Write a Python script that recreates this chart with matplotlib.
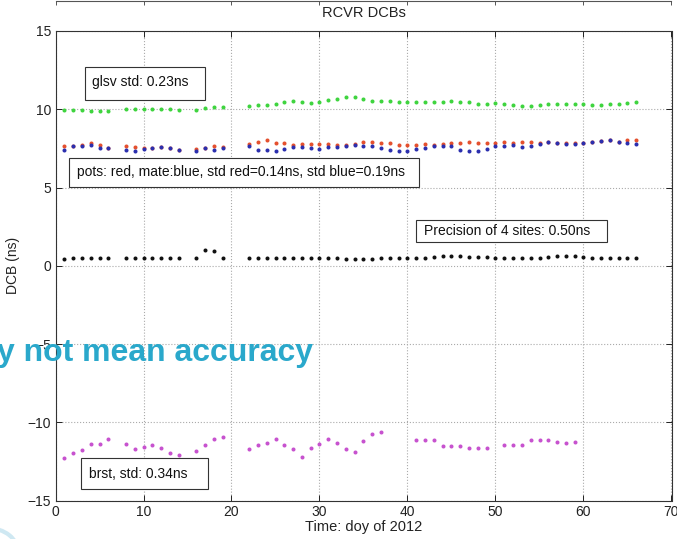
import matplotlib
matplotlib.use("Agg")
import matplotlib.pyplot as plt
from matplotlib.patches import Rectangle, Circle

plt.rcParams['font.family'] = ['Liberation Sans', 'DejaVu Sans']

# ---- data -------------------------------------------------------------
days = list(range(1, 7)) + list(range(8, 15)) + list(range(16, 20)) + list(range(22, 67))
days_brst = (list(range(1, 7)) + list(range(8, 15)) + list(range(16, 20)) +
             list(range(22, 38)) + list(range(41, 50)) + list(range(51, 60)))

glsv = [9.98, 9.98, 9.94, 9.90, 9.89, 9.88,
        10.00, 10.00, 10.03, 10.00, 10.00, 10.00, 9.98,
        9.94, 10.08, 10.17, 10.17,
        10.23, 10.25, 10.27, 10.36, 10.48, 10.53, 10.48, 10.42, 10.48, 10.57, 10.65, 10.78, 10.78,
        10.66, 10.51, 10.53, 10.53, 10.49, 10.45, 10.45, 10.45, 10.49, 10.49, 10.53, 10.49,
        10.45, 10.34, 10.34, 10.40, 10.36, 10.28, 10.21, 10.21, 10.26, 10.32, 10.32, 10.32,
        10.32, 10.34, 10.28, 10.28, 10.32, 10.32, 10.38, 10.45]

pots = [7.64, 7.66, 7.75, 7.87, 7.72, 7.55,
        7.68, 7.58, 7.50, 7.53, 7.60, 7.51, 7.43,
        7.48, 7.54, 7.63, 7.57,
        7.80, 7.94, 8.02, 7.87, 7.83, 7.75, 7.77, 7.81, 7.81, 7.79, 7.75, 7.75, 7.77,
        7.89, 7.89, 7.87, 7.85, 7.75, 7.75, 7.75, 7.77, 7.75, 7.79, 7.85, 7.85,
        7.89, 7.85, 7.83, 7.87, 7.89, 7.87, 7.89, 7.89, 7.87, 7.89, 7.87, 7.87,
        7.85, 7.87, 7.92, 7.98, 8.02, 7.94, 8.02, 8.02]

mate = [7.43, 7.64, 7.63, 7.70, 7.53, 7.55,
        7.40, 7.32, 7.45, 7.51, 7.60, 7.51, 7.43,
        7.36, 7.50, 7.39, 7.55,
        7.66, 7.43, 7.38, 7.34, 7.49, 7.58, 7.58, 7.55, 7.45, 7.57, 7.60, 7.68, 7.72,
        7.68, 7.66, 7.55, 7.38, 7.32, 7.32, 7.45, 7.51, 7.66, 7.66, 7.68, 7.38,
        7.32, 7.32, 7.47, 7.68, 7.66, 7.72, 7.60, 7.64, 7.81, 7.89, 7.87, 7.77,
        7.77, 7.83, 7.92, 7.98, 8.02, 7.94, 7.87, 7.81]

mean4 = [0.45, 0.49, 0.51, 0.51, 0.49, 0.49,
         0.49, 0.49, 0.49, 0.49, 0.49, 0.49, 0.49,
         0.51, 1.03, 0.92, 0.49,
         0.51, 0.51, 0.51, 0.51, 0.51, 0.49, 0.51, 0.53, 0.49, 0.49, 0.49, 0.45, 0.45,
         0.43, 0.45, 0.49, 0.49, 0.49, 0.49, 0.53, 0.53, 0.58, 0.60, 0.62, 0.60,
         0.58, 0.58, 0.58, 0.53, 0.53, 0.53, 0.53, 0.53, 0.53, 0.58, 0.60, 0.62,
         0.62, 0.55, 0.53, 0.51, 0.51, 0.49, 0.49, 0.49]

brst = [-12.30, -11.96, -11.75, -11.38, -11.40, -11.07,
        -11.40, -11.68, -11.60, -11.42, -11.66, -11.96, -12.10,
        -11.81, -11.45, -11.06, -10.92,
        -11.68, -11.45, -11.30, -11.06, -11.45, -11.70, -12.19, -11.64,
        -11.38, -11.06, -11.34, -11.70, -11.88, -11.19, -10.74, -10.61,
        -11.15, -11.15, -11.15, -11.49, -11.49, -11.49, -11.62, -11.62, -11.62,
        -11.46, -11.46, -11.46, -11.15, -11.10, -11.10, -11.23, -11.32, -11.27]

xticks = [0, 10, 20, 30, 40, 50, 60, 70]
yticks = [-15, -10, -5, 0, 5, 10, 15]

# ---- figure -----------------------------------------------------------
W, H = 677, 539
fig = plt.figure(figsize=(W / 100, H / 100), dpi=100)
fig.patch.set_facecolor('white')

def fx(px):
    return px / W

def fy(py):
    return 1 - py / H

ax_l, ax_r, ax_t, ax_b = 55.5, 671.5, 31.0, 500.7
ax = fig.add_axes([fx(ax_l), fy(ax_b), fx(ax_r - ax_l), (ax_b - ax_t) / H])

ax.set_xlim(0, 70)
ax.set_ylim(-15, 15)
ax.set_xticks(xticks)
ax.set_yticks(yticks)
ax.tick_params(direction='in', top=True, right=True, length=4, width=0.7,
               labelsize=10, colors='#222222', pad=3)
for s in ax.spines.values():
    s.set_color('#333333')
    s.set_linewidth(0.8)
ax.grid(True, linestyle=':', color='#aaaaaa', linewidth=0.8)

ms = 2.9
ax.plot(days, glsv, 'o', ms=ms, mew=0, color='#3fd43f', zorder=3)
ax.plot(days, pots, 'o', ms=ms, mew=0, color='#e4502e', zorder=3)
ax.plot(days, mate, 'o', ms=ms, mew=0, color='#2b2fae', zorder=4)
ax.plot(days, mean4, 'o', ms=ms, mew=0, color='#111111', zorder=3)
ax.plot(days_brst, brst, 'o', ms=ms, mew=0, color='#c752cf', zorder=3)

fig.text(fx((ax_l + ax_r) / 2), fy(13), 'RCVR DCBs', fontsize=10.5, color='#222222',
         ha='center', va='center')
ax.set_xlabel('Time: doy of 2012', fontsize=10.5, color='#222222', labelpad=1)
ax.set_ylabel('DCB (ns)', fontsize=10, color='#222222')
ax.yaxis.set_label_coords((20 - ax_l) / (ax_r - ax_l), 0.5)

# annotation boxes (pixel extents converted to data units)
def to_data(px, py):
    x = (px - ax_l) / (ax_r - ax_l) * 70
    y = 15 - (py - ax_t) / (ax_b - ax_t) * 30
    return x, y

def note(text, box, text_px):
    x0, y0 = to_data(box[0], box[3])
    x1, y1 = to_data(box[2], box[1])
    ax.add_patch(Rectangle((x0, y0), x1 - x0, y1 - y0, facecolor='white',
                           edgecolor='#333333', linewidth=0.8, zorder=5))
    tx, ty = to_data(*text_px)
    ax.text(tx, ty, text, fontsize=10, color='#111111', va='center', ha='left', zorder=6)

note('glsv std: 0.23ns', (85, 67, 205, 100), (92, 82))
note('pots: red, mate:blue, std red=0.14ns, std blue=0.19ns', (69, 158, 419, 187), (77, 172))
note('Precision of 4 sites: 0.50ns', (416, 220, 607, 242), (424, 231))
note('brst, std: 0.34ns', (81, 458, 208, 489), (89, 474))

# neighbouring slide elements
top = fig.add_axes([fx(ax_l), fy(5), fx(ax_r - ax_l), 4 / H])
top.set_xlim(0, 70)
top.set_xticks(xticks)
top.set_yticks([])
for k in ('left', 'right', 'bottom'):
    top.spines[k].set_visible(False)
top.spines['top'].set_color('#555555')
top.spines['top'].set_linewidth(0.8)
top.tick_params(axis='x', direction='in', top=True, bottom=False,
                labelbottom=False, length=3, width=0.7, colors='#555555')
top.patch.set_alpha(0)

fig.add_artist(Circle((fx(-12), fy(552)), 30 / W, transform=fig.transFigure,
                      facecolor='none', edgecolor='#cfe8f2', linewidth=3))

fig.text(fx(313), fy(361), 'y not mean accuracy', fontsize=23, fontweight='bold',
         color='#2aa8cb', ha='right', va='baseline', zorder=10)

fig.savefig('out.png', dpi=100)
